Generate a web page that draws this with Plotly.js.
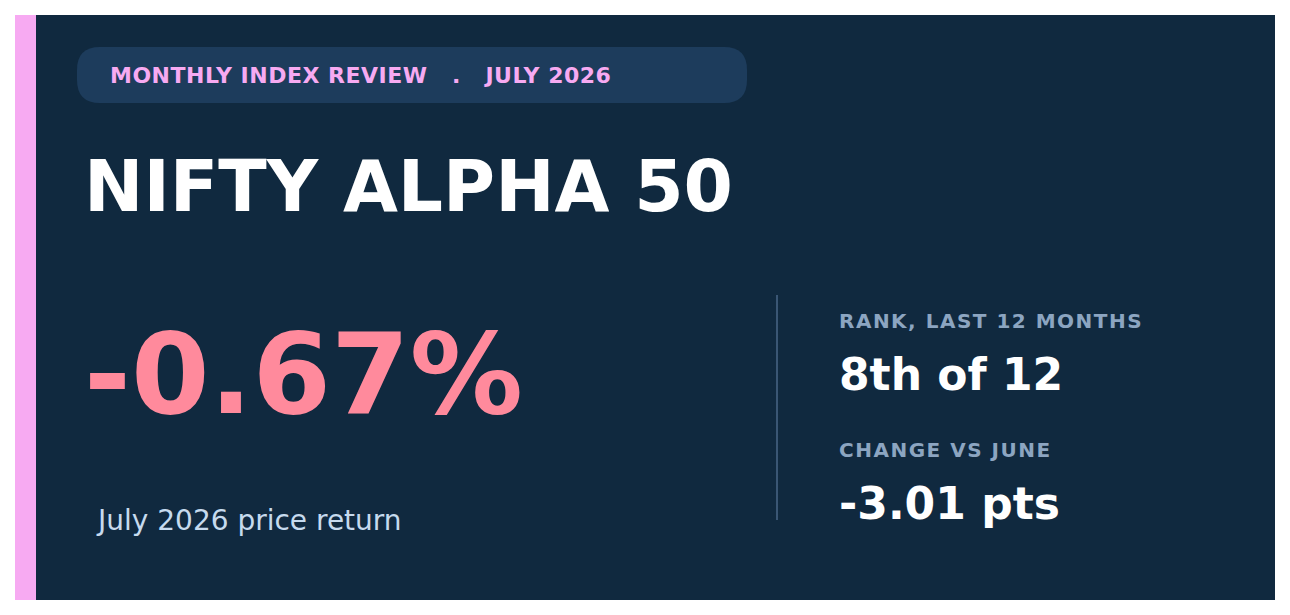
<!DOCTYPE html>
<html>
<head>
<meta charset="utf-8">
<script src="https://cdn.plot.ly/plotly-3.0.1.min.js"></script>
<style>
  html, body { margin: 0; padding: 0; background: #ffffff; }
  #card { width: 1290px; height: 615px; }
</style>
</head>
<body>
<div id="card"></div>
<script>
// card content
const kicker = ["MONTHLY INDEX REVIEW", "JULY 2026"];
const indexName = "NIFTY ALPHA 50";
const monthReturn = -0.67; // %
const returnLabel = "July 2026 price return";
const statLabels = ["RANK, LAST 12 MONTHS", "CHANGE VS JUNE"];
const statValues = ["8th of 12", "-3.01 pts"];

// colours
const navy = "#10293f";
const pill = "#1d3c5c";
const pink = "#f7aaf2";
const coral = "#ff8a9c";

const W = 1290, H = 615;
const font = "DejaVu Sans, Verdana, sans-serif";

function roundRect(x0, y0, x1, y1, r) {
    return `M${x0 + r},${y0} L${x1 - r},${y0} Q${x1},${y0} ${x1},${y0 + r} ` +
           `L${x1},${y1 - r} Q${x1},${y1} ${x1 - r},${y1} L${x0 + r},${y1} ` +
           `Q${x0},${y1} ${x0},${y1 - r} L${x0},${y0 + r} Q${x0},${y0} ${x0 + r},${y0} Z`;
}

// letter spacing per annotation (applied after render, plotly has no option for it)
let spacing = [];

function txt(x, y, text, size, color, bold, ls) {
    spacing.push(ls || 0);
    return {
        x: x, y: y, xref: "x", yref: "y", text: text,
        showarrow: false, xanchor: "left", yanchor: "middle",
        borderpad: 0,
        font: { family: font, size: size, color: color, weight: bold ? "bold" : "normal" }
    };
}

const sep = "\u00a0\u00a0\u00a0.\u00a0\u00a0\u00a0";
const retText = (monthReturn < 0 ? "-" : "+") + Math.abs(monthReturn).toFixed(2) + "%";

let annotations = [
    txt(109, 75, kicker.join(sep), 22, pink, true, 0.5),
    txt(83, 186, indexName, 71, "#ffffff", true),
    txt(83, 374, retText, 113, coral, true),
    txt(95, 520, returnLabel, 28, "#c6daee", false),
];
statLabels.forEach((lab, i) => {
    const top = 321 + i * 129;
    annotations.push(txt(838, top, lab, 20, "#8ca5c1", true, 1.5));
    annotations.push(txt(838, top + 53, statValues[i], 44, "#ffffff", true));
});

const shapes = [
    { type: "rect", xref: "x", yref: "y", x0: 15, x1: 1275, y0: 15, y1: 600, fillcolor: navy, line: { width: 0 }, layer: "below" },
    { type: "rect", xref: "x", yref: "y", x0: 15, x1: 36, y0: 15, y1: 600, fillcolor: pink, line: { width: 0 }, layer: "below" },
    { type: "path", xref: "x", yref: "y", path: roundRect(77, 47, 747, 103, 23), fillcolor: pill, line: { width: 0 }, layer: "below" },
    { type: "line", xref: "x", yref: "y", x0: 777, x1: 777, y0: 295, y1: 520, line: { color: "#3a5674", width: 2 } }
];

const layout = {
    width: W, height: H,
    margin: { l: 0, r: 0, t: 0, b: 0 },
    paper_bgcolor: "#ffffff",
    plot_bgcolor: "#ffffff",
    xaxis: { range: [0, W], visible: false, fixedrange: true },
    yaxis: { range: [H, 0], visible: false, fixedrange: true },
    showlegend: false,
    shapes: shapes,
    annotations: annotations
};

Plotly.newPlot("card", [], layout, { staticPlot: true, displayModeBar: false }).then(gd => {
    spacing.forEach((ls, i) => {
        if (!ls) return;
        const t = gd.querySelector(`g.annotation[data-index="${i}"] text`);
        if (!t) return;
        // text is centred, so keep the left edge where plotly put it
        const before = t.getBBox().x;
        t.setAttribute("letter-spacing", ls + "px");
        const after = t.getBBox().x;
        t.setAttribute("x", parseFloat(t.getAttribute("x") || 0) + (before - after));
    });
});
</script>
</body>
</html>
